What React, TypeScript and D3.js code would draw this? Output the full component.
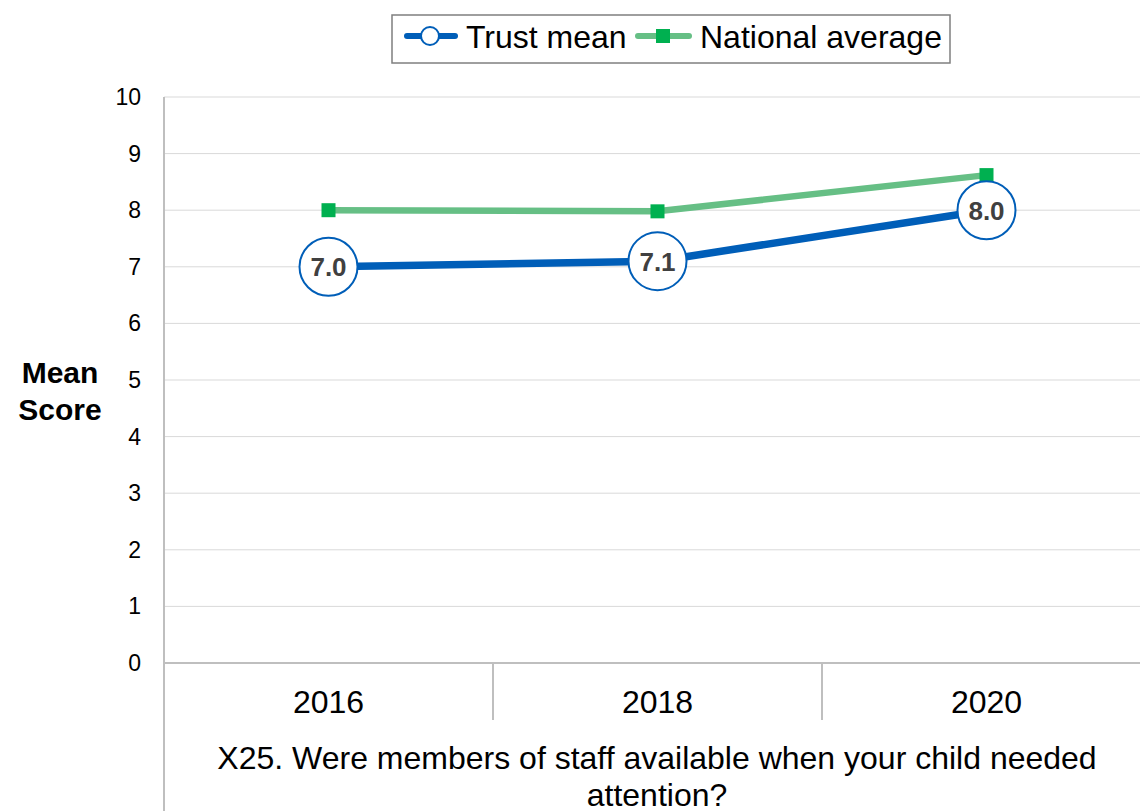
import React from "react";
import * as d3 from "d3";

const categories = ["2016", "2018", "2020"];
const trustMean = [7.0, 7.1, 8.0];
const nationalAverage = [8.0, 7.98, 8.62];
const yTicks = [0, 1, 2, 3, 4, 5, 6, 7, 8, 9, 10];
const titleLines = ["X25. Were members of staff available when your child needed", "attention?"];

export default function App() {
  const W = 1140, H = 811;
  const left = 164, right = 1151, top = 97, bottom = 663;
  const x = d3.scaleBand().domain(categories).range([left, right]);
  const y = d3.scaleLinear().domain([0, 10]).range([bottom, top]);
  const cx = (c: string) => (x(c) as number) + x.bandwidth() / 2;
  const line = d3.line<number>().x((_, i) => cx(categories[i])).y((v) => y(v));
  const font = "'Liberation Sans', Arial, sans-serif";
  const blue = "#005EB8";
  const green = "#66BF85";
  const greenMarker = "#00B050";

  return (
    <svg width={W} height={H} style={{ position: "absolute", left: 0, top: 0, background: "#fff" }} fontFamily={font}>
      {yTicks.map((t) => (
        <g key={t}>
          {t > 0 && <line x1={left} x2={W} y1={y(t)} y2={y(t)} stroke="#d9d9d9" strokeWidth={1} />}
          <text x={141} y={y(t)} dy="0.35em" textAnchor="end" fontSize={23} fill="#000">{t}</text>
        </g>
      ))}
      <line x1={left} x2={W} y1={bottom} y2={bottom} stroke="#bfbfbf" strokeWidth={2} />
      <line x1={left} x2={left} y1={top} y2={H} stroke="#bfbfbf" strokeWidth={2} />
      {categories.slice(1).map((c) => (
        <line key={c} x1={x(c)} x2={x(c)} y1={bottom} y2={720} stroke="#bfbfbf" strokeWidth={2} />
      ))}
      {categories.map((c) => (
        <text key={c} x={cx(c)} y={713} textAnchor="middle" fontSize={32} fill="#000">{c}</text>
      ))}
      {titleLines.map((l, i) => (
        <text key={i} x={657} y={769 + i * 37} textAnchor="middle" fontSize={32} fill="#000">{l}</text>
      ))}
      <text x={60} y={383} textAnchor="middle" fontSize={30} fontWeight="bold" fill="#000">Mean</text>
      <text x={60} y={420} textAnchor="middle" fontSize={30} fontWeight="bold" fill="#000">Score</text>

      <path d={line(nationalAverage) || ""} fill="none" stroke={green} strokeWidth={6.5} />
      {nationalAverage.map((v, i) => (
        <rect key={i} x={cx(categories[i]) - 7} y={y(v) - 7} width={14} height={14} fill={greenMarker} />
      ))}
      <path d={line(trustMean) || ""} fill="none" stroke={blue} strokeWidth={7.5} />
      {trustMean.map((v, i) => (
        <g key={i}>
          <circle cx={cx(categories[i])} cy={y(v)} r={29} fill="#fff" stroke={blue} strokeWidth={2} />
          <text x={cx(categories[i])} y={y(v)} dy="0.36em" textAnchor="middle" fontSize={26} fontWeight="bold" fill="#404040">{v.toFixed(1)}</text>
        </g>
      ))}

      <rect x={392} y={15} width={558} height={48} fill="#fff" stroke="#7f7f7f" strokeWidth={1.5} />
      <line x1={407} x2={455} y1={36} y2={36} stroke={blue} strokeWidth={6} strokeLinecap="round" />
      <circle cx={430} cy={36} r={9} fill="#fff" stroke={blue} strokeWidth={2} />
      <text x={466} y={36} dy="0.36em" fontSize={32} fill="#000">Trust mean</text>
      <line x1={638} x2={689} y1={36} y2={36} stroke={green} strokeWidth={6} strokeLinecap="round" />
      <rect x={656} y={29} width={14} height={14} fill={greenMarker} />
      <text x={700} y={36} dy="0.36em" fontSize={32} fill="#000">National average</text>
    </svg>
  );
}
